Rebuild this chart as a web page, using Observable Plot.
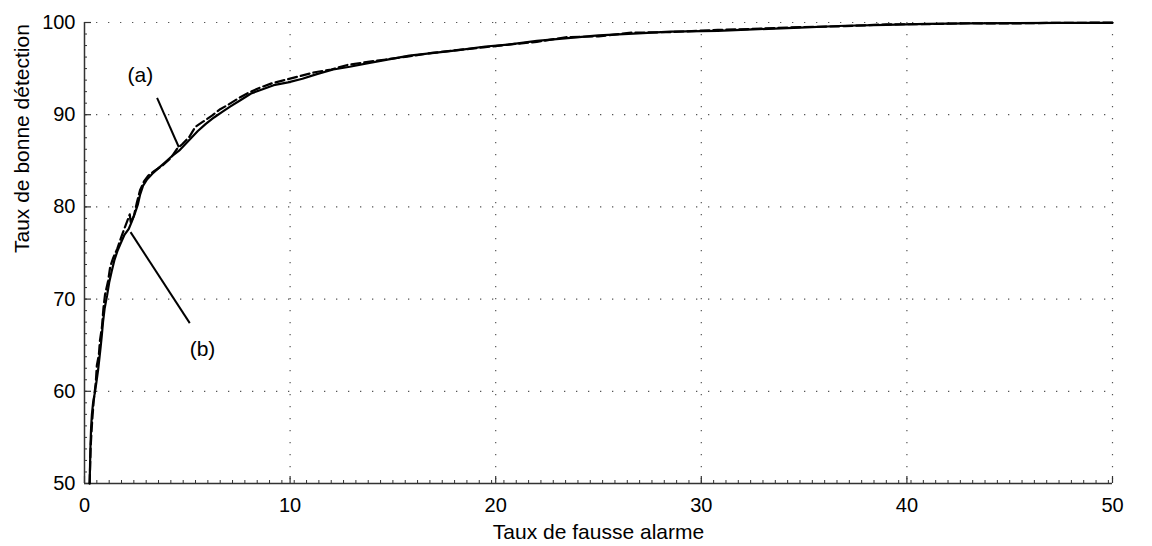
<!DOCTYPE html>
<html>
<head>
<meta charset="utf-8">
<script src="https://cdn.jsdelivr.net/npm/d3@7"></script>
<script src="https://cdn.jsdelivr.net/npm/@observablehq/plot@0.6"></script>
<style>
  html, body { margin: 0; padding: 0; background: #fff; }
  #chart { width: 1152px; height: 546px; }
</style>
</head>
<body>
<div id="chart"></div>
<script>
// ---- data ----
const xTicks = [0, 10, 20, 30, 40, 50];
const yTicks = [50, 60, 70, 80, 90, 100];
const xLabel = "Taux de fausse alarme";
const yLabel = "Taux de bonne détection";

// curve (a) – solid
const solidX = [0.25,0.27,0.29,0.32,0.36,0.42,0.5,0.58,0.66,0.72,0.78,0.84,0.9,0.98,1.1,1.2,1.32,1.45,1.6,1.75,1.95,2.15,2.3,2.45,2.6,2.7,2.85,3.05,3.3,3.6,3.95,4.3,4.6,4.9,5.2,5.5,5.9,6.3,6.7,7.1,7.6,8.1,8.6,9.2,9.9,10.6,11.3,12.1,12.9,13.8,14.8,15.8,17,18.2,19.5,20.6,22,23.5,25,26.7,28.5,30.8,32.5,34.8,37,39,41,43,45.2,47.5,50];
const solidY = [50,52,54,56,57.5,58.8,59.8,61.0,62.3,63.5,64.7,66,67.5,69,70.4,71.8,73,74.2,75.2,76,77,77.6,78.4,79.3,80.3,81.3,82.3,83.0,83.6,84.2,84.9,85.6,86.1,86.8,87.5,88.2,89.0,89.7,90.3,90.9,91.6,92.3,92.7,93.2,93.5,93.9,94.4,94.9,95.2,95.6,96.0,96.4,96.7,97.0,97.4,97.6,98.0,98.3,98.6,98.8,99.0,99.1,99.25,99.45,99.65,99.75,99.85,99.9,99.93,99.95,99.97];

// curve (b) – dashed
const dashedX = [0.25,0.3,0.38,0.45,0.55,0.6,0.7,0.75,0.85,0.92,1.0,1.15,1.25,1.4,1.6,1.8,2.0,2.2,2.25,2.4,2.55,2.7,2.9,3.1,3.4,3.8,4.2,4.5,4.75,5.1,5.4,5.8,6.2,6.6,7.0,7.5,8.0,8.5,9.1,9.8,10.5,11.2,12.0,12.8,13.7,14.7,15.7,16.9,18.1,19.4,20.6,22,23.4,25,26.6,28.4,30.8,32.5,34.8,37,39,41,43,45.2,47.5,50];
const dashedY = [50,54,57,59,61,62.8,64,65.5,67,69,70.5,72,73.5,74.5,75.5,76.8,78,79.2,78.3,79,80.5,81.8,82.8,83.4,83.9,84.5,85.3,86.3,86.8,87.6,88.7,89.3,89.9,90.6,91.1,91.8,92.4,92.9,93.4,93.8,94.2,94.6,94.9,95.4,95.7,96.0,96.3,96.7,97.0,97.3,97.6,97.9,98.4,98.5,98.9,98.95,99.2,99.3,99.5,99.6,99.8,99.82,99.92,99.9,99.97,99.98];

// annotations
const noteText = ["(a)", "(b)"];
const noteX = [2.72, 5.74];
const noteY = [94.25, 64.6];
const pointerX1 = [3.53, 2.24];
const pointerY1 = [91.83, 77.26];
const pointerX2 = [4.59, 5.12];
const pointerY2 = [86.47, 67.39];

// minor tick positions
const xMinor = d3.range(0, 50.01, 0.6);
const yMinor = d3.range(50, 100.01, 1.25);

// ---- build ----
const solid = solidX.map((x, i) => ({x, y: solidY[i]}));
const dashed = dashedX.map((x, i) => ({x, y: dashedY[i]}));
const notes = noteText.map((t, i) => ({t, x: noteX[i], y: noteY[i]}));
const pointers = pointerX1.map((x1, i) => ({x1, y1: pointerY1[i], x2: pointerX2[i], y2: pointerY2[i]}));

const W = 1152, H = 546;
const mL = 84, mR = 40, mT = 22, mB = 63;
const pw = W - mL - mR, ph = H - mT - mB;
const font = "'Liberation Sans', Arial, Helvetica, sans-serif";
const fsTick = 20;
const fsTitle = 21;

const chart = Plot.plot({
  width: W,
  height: H,
  marginLeft: mL,
  marginRight: mR,
  marginTop: mT,
  marginBottom: mB,
  style: {fontFamily: font, fontSize: fsTick + "px", color: "#000", background: "#fff"},
  x: {domain: [0, 50]},
  y: {domain: [50, 100]},
  marks: [
    // dotted grid
    Plot.ruleX(xTicks.filter(d => d > 0), {stroke: "#555", strokeWidth: 1.2, strokeDasharray: "1.3,10.7"}),
    Plot.ruleY(yTicks.filter(d => d > 50), {stroke: "#555", strokeWidth: 1.2, strokeDasharray: "1.3,10.7"}),
    // minor ticks (inward)
    Plot.tickX(xMinor, {stroke: "#333", strokeWidth: 1, insetTop: ph - 3}),
    Plot.tickY(yMinor, {stroke: "#333", strokeWidth: 1, insetRight: pw - 3}),
    // major ticks (inward)
    Plot.tickX(xTicks, {stroke: "#333", strokeWidth: 1.2, insetTop: ph - 7}),
    Plot.tickY(yTicks, {stroke: "#333", strokeWidth: 1.2, insetRight: pw - 7}),
    // axis lines
    Plot.ruleY([50], {stroke: "#333", strokeWidth: 1.5}),
    Plot.ruleX([0], {stroke: "#333", strokeWidth: 1.5}),
    // tick labels
    Plot.axisX(xTicks, {tickSize: 0, tickPadding: 14, fontSize: fsTick, label: null, tickFormat: d => String(d)}),
    Plot.axisY(yTicks, {tickSize: 0, tickPadding: 9, fontSize: fsTick, label: null, tickFormat: d => String(d)}),
    // axis titles
    Plot.text([xLabel], {frameAnchor: "bottom", dy: 55, fontSize: fsTitle, fill: "#000", text: d => d}),
    Plot.text([yLabel], {frameAnchor: "left", dx: -62, rotate: -90, fontSize: fsTitle, fill: "#000", text: d => d}),
    // curves
    Plot.line(dashed, {x: "x", y: "y", stroke: "#000", strokeWidth: 2.2, strokeDasharray: "9,4", curve: "linear"}),
    Plot.line(solid, {x: "x", y: "y", stroke: "#000", strokeWidth: 2.2, curve: "linear"}),
    // annotations
    Plot.link(pointers, {x1: "x1", y1: "y1", x2: "x2", y2: "y2", stroke: "#000", strokeWidth: 2}),
    Plot.text(notes, {x: "x", y: "y", text: "t", fontSize: fsTitle, fill: "#000"})
  ]
});
document.getElementById("chart").appendChild(chart);
</script>
</body>
</html>
